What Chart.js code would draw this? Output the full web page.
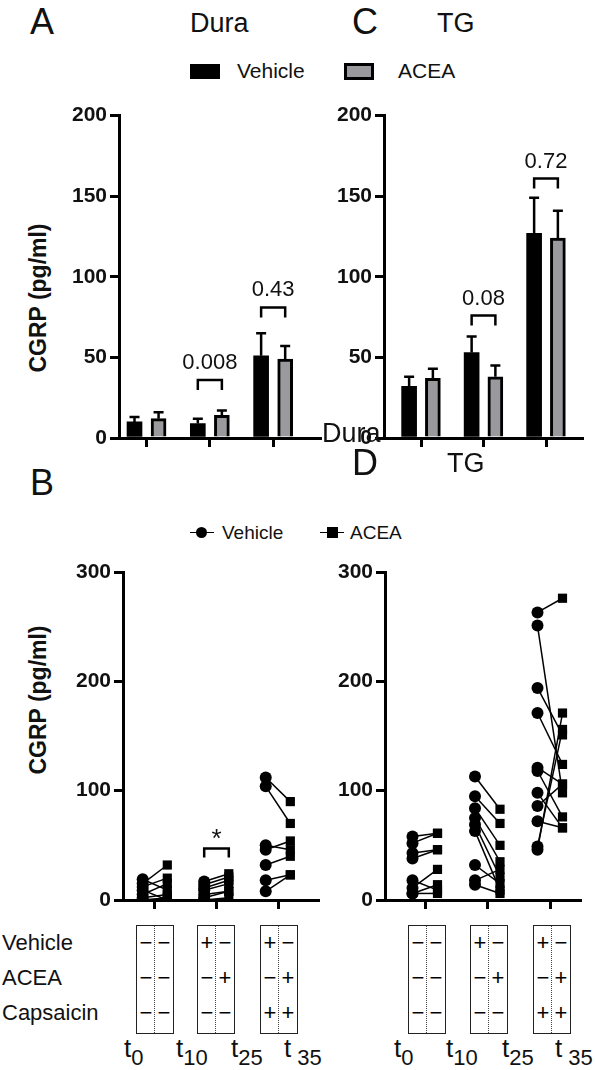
<!DOCTYPE html>
<html><head><meta charset="utf-8">
<script src="https://cdn.jsdelivr.net/npm/chart.js@4"></script>
<style>
body{margin:0;width:595px;height:1070px;background:#fff;position:relative;font-family:"Liberation Sans",Arial,sans-serif;overflow:hidden}
canvas{position:absolute}
.t{position:absolute;white-space:nowrap;color:#111;line-height:1}
.yl{position:absolute;font-weight:bold;font-size:23px;width:220px;text-align:center;line-height:24px;transform:rotate(-90deg);transform-origin:center;white-space:nowrap;color:#111}
.box{position:absolute;border:1.5px solid #222;width:36px;height:107px}
.box:after{content:"";position:absolute;left:17px;top:0;bottom:0;border-left:1.5px dotted #444}
.sg{position:absolute;font-size:22px;width:14px;text-align:center;line-height:1}
</style></head><body>
<canvas id="cA"></canvas><canvas id="cC"></canvas><canvas id="cB"></canvas><canvas id="cD"></canvas>
<script>
// ---- data ----
const groups = ["t0","t10-t25","t35"];
const duraVehicle = [10, 9, 51], duraVehicleErr = [13, 12, 65];
const duraACEA = [12, 14, 49], duraACEAErr = [16, 17, 57];
const tgVehicle = [32, 53, 127], tgVehicleErr = [38, 63, 149];
const tgACEA = [37, 38, 124], tgACEAErr = [43, 45, 141];
const duraP = ["", "0.008", "0.43"], duraPy = [0, 36, 81];
const tgP = ["", "0.08", "0.72"], tgPy = [0, 76, 161];
// paired data: [vehicle, ACEA]
const duraPairs = [
  [[19,9],[15,32],[12,20],[9,0],[5,15],[2,5],[0,2]],
  [[17,24],[14,21],[11,18],[9,15],[5,8],[2,8],[0,2]],
  [[112,90],[104,70],[50,46],[46,54],[32,40],[18,23],[8,23]]
];
const tgPairs = [
  [[58,61],[52,61],[43,46],[38,46],[18,9],[11,28],[6,14],[6,6]],
  [[113,83],[95,70],[84,50],[75,35],[69,21],[63,9],[32,15],[18,28],[14,6]],
  [[263,276],[251,98],[194,151],[171,124],[121,106],[118,76],[98,66],[86,106],[72,66],[49,156],[46,171]]
];
const yTicksBar = [0,50,100,150,200], yTicksPair = [0,100,200,300];

const FONT = '"Liberation Sans", Arial, sans-serif';
function place(id,l,t,w,h){const c=document.getElementById(id);c.style.left=l+'px';c.style.top=t+'px';c.style.width=w+'px';c.style.height=h+'px';c.width=w;c.height=h;return c;}

function scales(xmin,xmax,ymax,ticks,yw){
  return {
    x:{type:'linear',min:xmin,max:xmax,offset:false,
      afterBuildTicks:s=>{s.ticks=[{value:1},{value:2},{value:3}];},
      afterFit:s=>{s.height=22;},
      ticks:{callback:()=>''},
      grid:{drawOnChartArea:false,offset:false,tickLength:9,lineWidth:3,color:'#000'},
      border:{width:3,color:'#000'}},
    y:{min:0,max:ymax,
      afterBuildTicks:s=>{s.ticks=ticks.map(v=>({value:v}));},
      afterFit:s=>{s.width=yw;},
      ticks:{color:'#111',font:{family:FONT,size:21,weight:'bold'},padding:3},
      grid:{drawOnChartArea:false,tickLength:9,lineWidth:3,color:'#000'},
      border:{width:3,color:'#000'}}
  };
}

function barChart(id,l,t,w,h,yw,padT,padR,xmin,xmax,veh,vehE,ace,aceE,pl,py){
  place(id,l,t,w,h);
  const off=0.19;
  const annot={id:'annot',afterDatasetsDraw(ch){
    const c=ch.ctx,x=ch.scales.x,y=ch.scales.y;
    c.save();c.strokeStyle='#000';c.lineWidth=2.5;
    const err=(vals,errs,d)=>vals.forEach((v,i)=>{const px=x.getPixelForValue(i+1+d);
      c.beginPath();c.moveTo(px,y.getPixelForValue(v));c.lineTo(px,y.getPixelForValue(errs[i]));
      c.moveTo(px-5,y.getPixelForValue(errs[i]));c.lineTo(px+5,y.getPixelForValue(errs[i]));c.stroke();});
    err(veh,vehE,-off);err(ace,aceE,off);
    c.fillStyle='#111';c.font='22px '+FONT;c.textAlign='center';c.textBaseline='bottom';
    pl.forEach((p,i)=>{if(!p)return;const a=x.getPixelForValue(i+1-off),b=x.getPixelForValue(i+1+off),yy=y.getPixelForValue(py[i]);
      c.beginPath();c.moveTo(a,yy+10);c.lineTo(a,yy);c.lineTo(b,yy);c.lineTo(b,yy+10);c.stroke();
      c.fillText(p,(a+b)/2,yy-6);});
    c.restore();}};
  new Chart(document.getElementById(id),{type:'bar',
    data:{datasets:[
      {label:'Vehicle',data:veh.map((v,i)=>({x:i+1-off,y:v})),backgroundColor:'#000',borderColor:'#000',borderWidth:0,barThickness:15},
      {label:'ACEA',data:ace.map((v,i)=>({x:i+1+off,y:v})),backgroundColor:'#9a9a9e',borderColor:'#000',borderWidth:3,barThickness:15}]},
    options:{responsive:false,animation:false,devicePixelRatio:1,grouped:false,
      layout:{padding:{top:padT,right:padR,left:0,bottom:0}},
      plugins:{legend:{display:false},tooltip:{enabled:false}},
      scales:scales(xmin,xmax,200,yTicksBar,yw)},plugins:[annot]});
}

function pairChart(id,l,t,w,h,yw,padT,padR,xmin,xmax,pairs,star){
  place(id,l,t,w,h);
  const off=0.2,ds=[];
  pairs.forEach((g,gi)=>g.forEach(p=>ds.push({data:[{x:gi+1-off,y:p[0]},{x:gi+1+off,y:p[1]}],
    showLine:true,borderColor:'#000',borderWidth:1.5,backgroundColor:'#000',
    pointStyle:['circle','rect'],pointRadius:[6,6.5],pointBorderWidth:0})));
  const annot={id:'annot',afterDatasetsDraw(ch){ if(!star)return;
    const c=ch.ctx,x=ch.scales.x,y=ch.scales.y;c.save();c.strokeStyle='#000';c.lineWidth=2.5;
    const a=x.getPixelForValue(star.g-off),b=x.getPixelForValue(star.g+off),yy=y.getPixelForValue(star.y);
    c.beginPath();c.moveTo(a,yy+9);c.lineTo(a,yy);c.lineTo(b,yy);c.lineTo(b,yy+9);c.stroke();
    c.fillStyle='#111';c.font='26px '+FONT;c.textAlign='center';c.textBaseline='bottom';c.fillText('*',(a+b)/2,yy+4);c.restore();}};
  new Chart(document.getElementById(id),{type:'scatter',data:{datasets:ds},
    options:{responsive:false,animation:false,devicePixelRatio:1,
      layout:{padding:{top:padT,right:padR,left:0,bottom:0}},
      plugins:{legend:{display:false},tooltip:{enabled:false}},
      scales:scales(xmin,xmax,300,yTicksPair,yw)},plugins:[annot]});
}

barChart('cA',55,100,280,360,64,14,15,0.565,3.74,duraVehicle,duraVehicleErr,duraACEA,duraACEAErr,duraP,duraPy);
barChart('cC',316,100,275,360,68,11,9,0.408,3.576,tgVehicle,tgVehicleErr,tgACEA,tgACEAErr,tgP,tgPy);
pairChart('cB',55,555,280,367,68,17,17,0.48,3.65,duraPairs,{g:2,y:47});
pairChart('cD',316,555,275,367,69,17,11,0.36,3.48,tgPairs,null);
</script>
<div class="t" style="left:30px;top:4px;font-size:36px">A</div>
<div class="t" style="left:190px;top:10px;font-size:27px">Dura</div>
<div class="t" style="left:352px;top:4px;font-size:36px">C</div>
<div class="t" style="left:437px;top:10px;font-size:27px">TG</div>
<div style="position:absolute;left:190px;top:64px;width:30px;height:15px;background:#000"></div>
<div class="t" style="left:237px;top:60px;font-size:21px">Vehicle</div>
<div style="position:absolute;left:344px;top:63px;width:24px;height:11px;background:#9a9a9e;border:3px solid #000"></div>
<div class="t" style="left:398px;top:60px;font-size:21px">ACEA</div>
<div class="yl" style="left:-72px;top:286px">CGRP (pg/ml)</div>

<div class="t" style="left:30px;top:465px;font-size:36px">B</div>
<div class="t" style="left:322px;top:420px;font-size:27px">Dura</div>
<div class="t" style="left:352px;top:445px;font-size:36px">D</div>
<div class="t" style="left:447px;top:450px;font-size:27px">TG</div>
<div style="position:absolute;left:190px;top:532px;width:24px;border-top:1.5px solid #000"></div>
<div style="position:absolute;left:196px;top:527px;width:11px;height:11px;border-radius:50%;background:#000"></div>
<div class="t" style="left:222px;top:523px;font-size:19px">Vehicle</div>
<div style="position:absolute;left:320px;top:532px;width:24px;border-top:1.5px solid #000"></div>
<div style="position:absolute;left:327px;top:527px;width:11px;height:11px;background:#000"></div>
<div class="t" style="left:350px;top:523px;font-size:19px">ACEA</div>
<div class="yl" style="left:-72px;top:688px">CGRP (pg/ml)</div>

<div class="t" style="left:2px;top:932px;font-size:22px">Vehicle</div>
<div class="t" style="left:2px;top:967px;font-size:22px">ACEA</div>
<div class="t" style="left:2px;top:1002px;font-size:22px">Capsaicin</div>
<div id="tables"></div>
<script>
const signs = [
  [["−","−"],["−","−"],["−","−"]],
  [["+","−"],["−","+"],["−","−"]],
  [["+","−"],["−","+"],["+","+"]]
];
const boxLeftB=[136,197,260], boxLeftD=[408,470,533];
const rowsY=[932,967,1002];
const tb=document.getElementById('tables');
[boxLeftB,boxLeftD].forEach(arr=>arr.forEach((bl,bi)=>{
  const b=document.createElement('div');b.className='box';b.style.left=bl+'px';b.style.top='925px';tb.appendChild(b);
  signs[bi].forEach((r,ri)=>r.forEach((s,si)=>{const d=document.createElement('div');d.className='sg';
    d.textContent=s;d.style.left=(bl+3+si*18)+'px';d.style.top=rowsY[ri]+'px';tb.appendChild(d);}));
}));
const tl=[[124,'0'],[176,'10'],[231,'25'],[284,' 35']], tlD=[[394,'0'],[446,'10'],[502,'25'],[555,' 35']];
[tl,tlD].forEach(a=>a.forEach(([x,s])=>{const d=document.createElement('div');d.className='t';d.style.left=x+'px';d.style.top='1035px';
  d.style.fontSize='26px';d.innerHTML='t<sub style="font-size:22px;vertical-align:-8px">'+s+'</sub>';tb.appendChild(d);}));
</script>
</body></html>
